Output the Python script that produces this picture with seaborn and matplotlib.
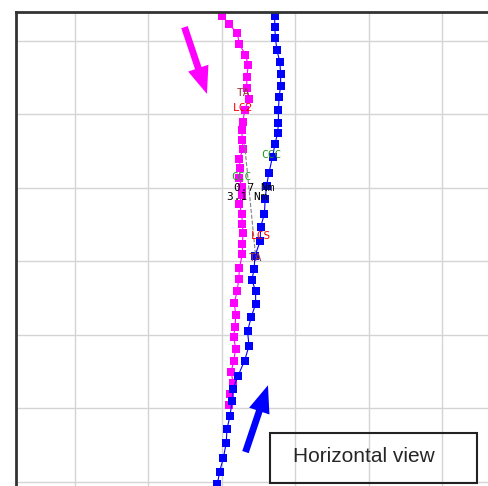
import numpy as np
import pandas as pd
import matplotlib
matplotlib.use('Agg')
import matplotlib.pyplot as plt
import seaborn as sns
from matplotlib.patches import Rectangle

# trajectory points, grid units (10 per cell)
mag_x = [20.0, 20.95, 22.1, 22.4, 23.2, 23.6, 23.4, 23.4, 23.7, 23.1, 22.9, 22.7, 22.8,
         22.9, 22.4, 22.5, 22.4, 22.7, 22.7, 22.4, 22.7, 22.8, 22.9, 22.8, 22.8, 22.4,
         22.3, 22.1, 21.7, 21.9, 21.8, 21.6, 21.9, 21.6, 21.3, 21.5, 21.1, 20.95]
mag_y = [63.4, 62.3, 61.0, 59.5, 58.1, 56.7, 55.0, 53.5, 52.1, 50.6, 49.0, 47.9, 46.5,
         45.3, 43.9, 42.7, 41.3, 40.1, 39.0, 37.8, 36.5, 35.1, 33.8, 32.3, 31.0, 29.1,
         27.6, 26.0, 24.3, 22.7, 21.1, 19.7, 18.1, 16.5, 15.0, 13.5, 12.0, 10.5]

blue_x = [27.2, 27.2, 27.3, 27.5, 27.9, 28.0, 28.0, 27.8, 27.7, 27.7, 27.6, 27.25, 26.9,
          26.4, 26.1, 25.9, 25.8, 25.3, 25.2, 24.5, 24.4, 24.1, 24.6, 24.6, 24.0, 23.5,
          23.7, 23.1, 22.2, 21.5, 21.4, 21.1, 20.7, 20.6, 20.2, 19.7, 19.4]
blue_y = [63.4, 61.9, 60.3, 58.7, 57.1, 55.5, 53.9, 52.3, 50.6, 48.8, 47.5, 46.0, 44.2,
          42.0, 40.3, 38.5, 36.5, 34.7, 32.7, 30.7, 29.0, 27.5, 25.9, 24.2, 22.4, 20.5,
          18.5, 16.5, 14.4, 12.6, 11.0, 8.9, 7.2, 5.3, 3.2, 1.4, -0.3]

# labels along the path
lab_text = ['TA', 'LC2', 'CCC', 'CCC', '0.7 Nm', '3.1 Nm', 'LCS', 'TA']
lab_x = [22.9, 22.9, 26.7, 22.6, 24.4, 23.5, 25.3, 24.6]
lab_y = [52.9, 50.9, 44.5, 41.4, 40.0, 38.8, 33.5, 30.5]
lab_col = ['#993333', '#ff0000', '#229922', '#229922', 'black', 'black', '#ff0000', '#993333']

sns.set_style('white')

fig = plt.figure(figsize=(4.88, 4.86), dpi=100)
ax = fig.add_axes([0.0328, -0.037, 1.057 - 0.0328, 0.9753 + 0.037])

sns.lineplot(x=mag_x, y=mag_y, sort=False, estimator=None, color='#ff00ff', lw=0.8,
             marker='s', markersize=6, markeredgewidth=0, ax=ax)
sns.lineplot(x=blue_x, y=blue_y, sort=False, estimator=None, color='#0000ff', lw=0.8,
             marker='s', markersize=6, markeredgewidth=0, ax=ax)

# dashed link between TA labels
ax.plot([23.1, 24.6], [45.9, 30.7], ls='--', color='gray', lw=0.8)

for t, x, y, c in zip(lab_text, lab_x, lab_y, lab_col):
    ax.text(x, y, t, color=c, fontsize=8, family='DejaVu Sans Mono', ha='center', va='center')

# direction arrows
ax.annotate('', xy=(18.1, 52.4), xytext=(14.8, 62.2),
            arrowprops=dict(arrowstyle='simple,head_length=1.4,head_width=1.1,tail_width=0.35',
                            color='#ff00ff', mutation_scale=14, lw=0))
ax.annotate('', xy=(26.4, 13.5), xytext=(23.1, 3.7),
            arrowprops=dict(arrowstyle='simple,head_length=1.4,head_width=1.1,tail_width=0.35',
                            color='#0000ff', mutation_scale=14, lw=0))

ax.add_patch(Rectangle((26.6, -0.1), 28.1, 6.8, fill=False, ec='#222222', lw=1.5, zorder=5))
ax.text(39.3, 3.5, 'Horizontal view', fontsize=15, family='Liberation Sans',
        ha='center', va='center', zorder=6)

ax.set_xlim(-8, 60)
ax.set_ylim(-3, 63.9)
ax.set_xticks(np.arange(0, 60, 10))
ax.set_yticks(np.arange(0, 70, 10))
ax.tick_params(length=0, labelbottom=False, labelleft=False)
ax.grid(True, color='#d4d4d4', lw=1)
ax.set_axisbelow(True)
for s in ['left', 'top']:
    ax.spines[s].set_color('#333333')
    ax.spines[s].set_linewidth(2)
for s in ['right', 'bottom']:
    ax.spines[s].set_visible(False)

fig.savefig('out.png', dpi=100)
